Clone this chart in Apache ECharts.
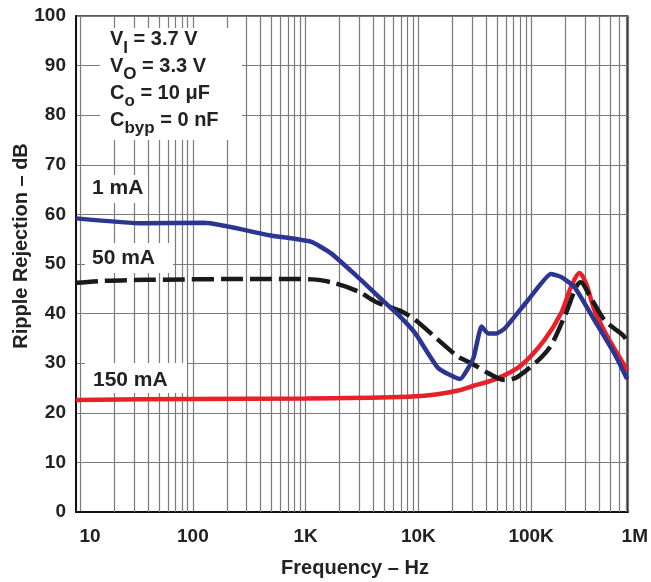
<!DOCTYPE html>
<html><head><meta charset="utf-8">
<script src="https://cdn.jsdelivr.net/npm/echarts@6/dist/echarts.min.js"></script>
<style>html,body{margin:0;padding:0;background:#fff}#c{width:651px;height:582px}</style>
</head><body><div id="c"></div>
<script>
// ---- data ----
const freq1mA = [9.2, 36, 127, 475, 1110, 1670, 2770, 4450, 6680, 9400, 15000, 23400, 30700, 36300, 41600, 49200, 58300, 93700, 150000, 184000, 242000, 364000, 546000, 710000];
const rr1mA   = [59.2, 58.2, 58.3, 55.8, 54.5, 52.2, 47.8, 43.4, 39.7, 36.0, 29.0, 26.8, 31.0, 37.4, 36.0, 36.0, 37.0, 42.7, 48.0, 47.4, 45.4, 38.7, 32.0, 26.8];

const freq50mA = [9.2, 16, 37.5, 475, 1146, 1841, 2965, 4160, 7150, 9400, 15000, 22600, 29600, 41600, 58300, 76500, 141000, 198000, 275000, 340000, 446000, 546000, 647000, 710000];
const rr50mA   = [46.2, 46.6, 46.8, 47.0, 46.9, 46.1, 44.4, 42.4, 40.4, 38.7, 34.7, 31.3, 30.0, 28.0, 26.6, 27.3, 32.7, 39.4, 46.3, 43.1, 38.7, 37.0, 35.7, 34.5];

const freq150mA = [9.2, 100, 1000, 6680, 13000, 22600, 29600, 50900, 81800, 131500, 184500, 226000, 268000, 307000, 364000, 476000, 669000, 710000];
const rr150mA   = [22.6, 22.8, 22.9, 23.2, 23.6, 24.5, 25.3, 27.0, 29.6, 34.7, 40.1, 45.4, 48.2, 46.1, 40.7, 35.3, 29.6, 28.5];

const xMin = 9.2, xMax = 720000;
const xTickLabels = [[10, '10'], [100, '100'], [1000, '1K'], [10000, '10K'], [100000, '100K'], [720000, '1M']];
const minorFreqs = [20,30,40,50,60,70,80,90, 200,300,400,500,600,700,800,900,
  2000,3000,4000,5000,6000,7000,8000,9000, 20000,30000,40000,50000,60000,70000,80000,90000,
  200000,300000,400000,500000,600000,700000];
const yTicks = {min: 0, max: 100, step: 10};
const curveLabels = ['1 mA', '50 mA', '150 mA'];
const conditions = [['V', 'I', ' = 3.7 V'], ['V', 'O', ' = 3.3 V'], ['C', 'o', ' = 10 μF'], ['C', 'byp', ' = 0 nF']];

// ---- chart ----
const FONT = '"Liberation Sans", Arial, Helvetica, sans-serif';
const TXT = '#222';
const GRID = '#7a7a7a';
const pairs = (xs, ys) => xs.map((x, i) => [x, ys[i]]);

const chart = echarts.init(document.getElementById('c'), null, {renderer: 'canvas'});

function labelFor(v) {
  for (const [k, s] of xTickLabels) {
    if (Math.abs(Math.log10(v) - Math.log10(k)) < 0.01) return s;
  }
  return '';
}

const richBase = {fontSize: 19, fontWeight: 'bold', fontFamily: FONT, color: TXT};

const graphics = [];
// conditions box
graphics.push({type: 'rect', z: 10, shape: {x: 100, y: 28, width: 142, height: 112}, style: {fill: '#fff'}});
const condY = [41.5, 68, 95, 122];
conditions.forEach((c, i) => {
  graphics.push({
    type: 'text', z: 11, x: 110, y: condY[i] - 12,
    style: {
      text: '{m|' + c[0] + '}{s|' + c[1] + '}{m|' + c[2] + '}',
      verticalAlign: 'top',
      rich: {
        m: {fontSize: 20, fontWeight: 'bold', fontFamily: FONT, fill: TXT, lineHeight: 24, verticalAlign: 'top'},
        s: {fontSize: 17, fontWeight: 'bold', fontFamily: FONT, fill: TXT, lineHeight: 17, padding: [10, 0, 0, 0], verticalAlign: 'top'}
      }
    }
  });
});
// curve labels with white boxes
const lblBoxes = [[85, 175, 63, 28, 92, 188], [85, 243, 88, 30, 92, 258], [85, 363, 102, 30, 93, 380]];
curveLabels.forEach((t, i) => {
  const b = lblBoxes[i];
  graphics.push({type: 'rect', z: 10, shape: {x: b[0], y: b[1], width: b[2], height: b[3]}, style: {fill: '#fff'}});
  graphics.push({type: 'text', z: 11, x: b[4], y: b[5], style: {text: t, font: 'bold 21px ' + FONT, fill: TXT, verticalAlign: 'middle', textAlign: 'left'}});
});
// axis titles
graphics.push({type: 'text', z: 11, x: 21, y: 246, rotation: Math.PI / 2,
  style: {text: 'Ripple Rejection – dB', font: 'bold 20px ' + FONT, fill: TXT, textAlign: 'center', verticalAlign: 'middle'}});
graphics.push({type: 'text', z: 11, x: 355, y: 568,
  style: {text: 'Frequency – Hz', font: 'bold 20px ' + FONT, fill: TXT, textAlign: 'center', verticalAlign: 'middle'}});

const option = {
  animation: false,
  backgroundColor: '#fff',
  grid: {left: 76, right: 21, top: 16, bottom: 70, show: true, borderColor: '#222', borderWidth: 1.5, containLabel: false},
  xAxis: {
    type: 'log', logBase: 10, min: xMin, max: xMax,
    axisLine: {show: true, lineStyle: {color: '#111', width: 2}},
    axisTick: {show: false},
    splitLine: {show: true, lineStyle: {color: GRID, width: 1.2}},
    axisLabel: {
      show: true, margin: 15, showMinLabel: false,
      fontSize: 19, fontWeight: 'bold', fontFamily: FONT, color: TXT,
      formatter: v => {
        const s = labelFor(v);
        if (s === '10') return '{l|10}';
        if (s === '1M') return '{r|1M}';
        return s;
      },
      rich: {
        l: Object.assign({padding: [0, 0, 0, 20]}, richBase),
        r: Object.assign({padding: [0, 0, 0, 14]}, richBase)
      }
    }
  },
  yAxis: {
    type: 'value', min: yTicks.min, max: yTicks.max, interval: yTicks.step,
    axisLine: {show: true, lineStyle: {color: '#111', width: 2}},
    axisTick: {show: false},
    splitLine: {show: true, lineStyle: {color: GRID, width: 1.2}},
    axisLabel: {margin: 10, fontSize: 19, fontWeight: 'bold', fontFamily: FONT, color: TXT}
  },
  graphic: graphics,
  series: [
    {
      name: 'minor grid', type: 'line', data: [], z: 1, silent: true,
      markLine: {
        silent: true, symbol: 'none', z: 1, animation: false,
        label: {show: false},
        lineStyle: {color: GRID, width: 1.2, type: 'solid'},
        emphasis: {disabled: true},
        data: minorFreqs.map(f => ({xAxis: f}))
      }
    },
    {
      name: '150 mA', type: 'line', z: 3, data: pairs(freq150mA, rr150mA), showSymbol: false, smooth: 0.3,
      lineStyle: {color: '#e8202a', width: 4.5}
    },
    {
      name: '50 mA', type: 'line', z: 4, data: pairs(freq50mA, rr50mA), showSymbol: false, smooth: 0.3,
      lineStyle: {color: '#1a1a1a', width: 4.5, type: [22, 7], cap: 'butt'}
    },
    {
      name: '1 mA', type: 'line', z: 5, data: pairs(freq1mA, rr1mA), showSymbol: false, smooth: 0.15,
      lineStyle: {color: '#2b3592', width: 4.5}
    }
  ]
};
chart.setOption(option);
</script>
</body></html>
